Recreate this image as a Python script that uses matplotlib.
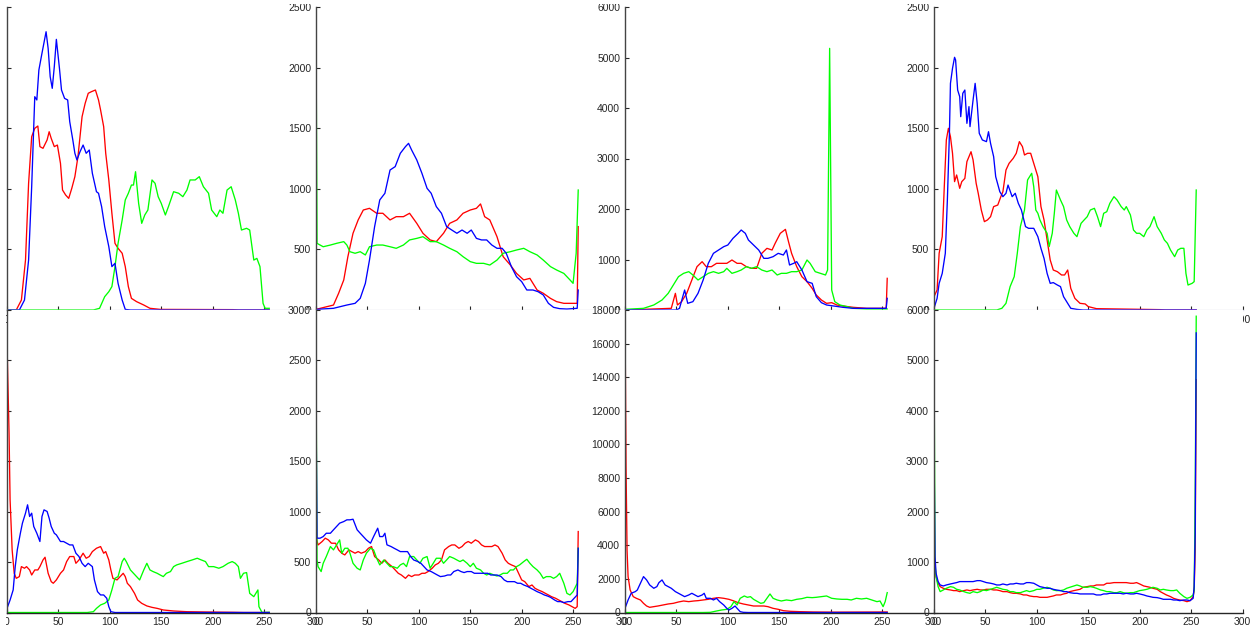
import numpy as np
import matplotlib
matplotlib.use("Agg")
import matplotlib.pyplot as plt
from matplotlib.patches import Rectangle

# ── Histogram samples (grey level, pixel count) ────────────────────────────────
# p<row><col>_<channel>

p11_red = [(0, 0), (9, 0), (14, 82), (18, 412), (21, 1045), (24, 1430), (27, 1499), (30, 1518),
           (32, 1348), (35, 1334), (39, 1403), (41, 1471), (43, 1416), (46, 1348), (49, 1361),
           (52, 1210), (54, 990), (57, 949), (60, 921), (63, 1004), (66, 1100), (69, 1265),
           (73, 1595), (76, 1705), (79, 1788), (82, 1801), (86, 1815), (89, 1733), (91, 1650),
           (94, 1513), (96, 1293), (99, 1073), (102, 798), (105, 550), (108, 509), (112, 468),
           (115, 358), (118, 193), (121, 96), (126, 69), (133, 41), (139, 14), (149, 5),
           (220, 3), (225, 0), (255, 0)]
p11_green = [(0, 0), (84, 0), (90, 14), (95, 110), (99, 151), (102, 193), (105, 358), (108, 550),
             (112, 743), (115, 908), (118, 963), (121, 1031), (123, 1031), (125, 1141), (128, 880),
             (131, 715), (134, 784), (137, 825), (141, 1073), (144, 1045), (147, 935), (150, 880),
             (154, 784), (157, 853), (162, 976), (167, 963), (171, 935), (175, 990), (178, 1073),
             (183, 1073), (187, 1100), (191, 1017), (196, 963), (199, 825), (204, 770), (207, 825),
             (210, 798), (214, 990), (218, 1017), (222, 908), (225, 798), (228, 660), (233, 674),
             (236, 660), (240, 412), (243, 426), (246, 358), (249, 55), (251, 14), (255, 14)]
p11_blue = [(0, 0), (12, 0), (17, 82), (21, 412), (24, 1017), (27, 1760), (29, 1733), (31, 1980),
            (34, 2118), (38, 2296), (40, 2159), (42, 1925), (44, 1829), (46, 2008), (48, 2233),
            (51, 1994), (53, 1815), (56, 1746), (59, 1733), (61, 1554), (64, 1403), (66, 1293),
            (68, 1238), (71, 1306), (74, 1361), (77, 1293), (80, 1320), (83, 1128), (87, 976),
            (89, 963), (92, 853), (95, 688), (99, 523), (102, 358), (105, 385), (108, 220),
            (112, 82), (115, 5), (120, 0), (255, 0)]

p12_red = [(0, 5), (17, 41), (22, 138), (27, 248), (31, 440), (36, 633), (41, 743), (46, 825),
           (52, 839), (59, 798), (65, 798), (72, 743), (78, 770), (85, 770), (91, 798), (98, 715),
           (104, 633), (111, 578), (117, 564), (124, 633), (130, 715), (137, 743), (143, 798),
           (150, 825), (156, 839), (160, 875), (164, 770), (169, 743), (176, 605), (182, 440),
           (189, 371), (195, 302), (202, 248), (208, 261), (215, 165), (221, 138), (228, 96),
           (234, 69), (241, 55), (247, 55), (254, 55), (255, 688)]
p12_green = [(0, 2351), (1, 550), (7, 522), (14, 536), (20, 550), (27, 564), (30, 536), (33, 481),
             (38, 468), (43, 481), (48, 454), (52, 522), (59, 536), (65, 536), (72, 522), (78, 509),
             (85, 536), (91, 578), (98, 591), (104, 605), (111, 564), (117, 564), (124, 536),
             (130, 509), (137, 481), (143, 440), (150, 399), (156, 385), (163, 385), (169, 371),
             (176, 412), (182, 468), (189, 481), (195, 495), (202, 509), (208, 481), (215, 454),
             (221, 412), (228, 358), (234, 330), (241, 302), (247, 248), (250, 220), (253, 468),
             (255, 990)]
p12_blue = [(0, 5), (17, 14), (30, 41), (38, 55), (43, 96), (48, 220), (52, 412), (57, 688),
            (62, 908), (67, 963), (72, 1155), (77, 1183), (82, 1293), (87, 1348), (90, 1375),
            (93, 1320), (98, 1238), (103, 1128), (108, 1004), (112, 963), (117, 853), (122, 798),
            (127, 688), (132, 660), (137, 633), (142, 660), (147, 633), (151, 660), (156, 591),
            (161, 578), (166, 578), (171, 536), (176, 509), (181, 509), (185, 468), (190, 358),
            (195, 275), (200, 234), (205, 165), (211, 165), (216, 151), (221, 124), (226, 55),
            (231, 22), (237, 11), (244, 8), (254, 14), (255, 165)]

p13_red = [(0, 0), (45, 33), (49, 330), (51, 99), (55, 165), (60, 330), (65, 594), (70, 858),
           (75, 957), (79, 858), (84, 858), (89, 924), (94, 924), (99, 924), (104, 990), (109, 924),
           (113, 924), (118, 858), (123, 825), (128, 825), (133, 1122), (138, 1221), (143, 1188),
           (146, 1320), (151, 1518), (156, 1597), (159, 1353), (162, 1122), (167, 858), (172, 660),
           (177, 561), (182, 429), (186, 297), (191, 198), (196, 132), (201, 145), (206, 99),
           (212, 79), (222, 53), (235, 33), (254, 33), (255, 627)]
p13_green = [(0, 13), (18, 33), (28, 99), (36, 198), (42, 330), (47, 495), (52, 660), (57, 726),
             (62, 759), (66, 693), (71, 594), (76, 660), (81, 726), (86, 759), (91, 726), (96, 759),
             (99, 825), (104, 726), (109, 759), (113, 792), (118, 858), (123, 825), (128, 858),
             (133, 792), (138, 759), (143, 792), (148, 693), (152, 726), (157, 726), (162, 759),
             (167, 759), (172, 792), (177, 990), (180, 924), (185, 759), (190, 726), (195, 693),
             (197, 792), (199, 5181), (201, 396), (204, 165), (209, 99), (216, 66), (222, 33),
             (235, 20), (255, 20)]
p13_blue = [(0, 0), (50, 0), (53, 33), (58, 396), (61, 132), (66, 165), (71, 330), (76, 594),
            (81, 924), (86, 1122), (91, 1188), (96, 1254), (100, 1287), (105, 1419), (110, 1518),
            (113, 1584), (117, 1518), (120, 1386), (125, 1287), (130, 1188), (135, 1023),
            (139, 1023), (144, 1056), (149, 1122), (154, 1089), (157, 1188), (160, 891), (164, 924),
            (167, 957), (172, 792), (177, 561), (182, 528), (186, 264), (191, 145), (196, 99),
            (203, 79), (212, 53), (222, 33), (254, 33), (255, 231)]

p14_red = [(0, 110), (3, 165), (5, 468), (8, 605), (10, 1017), (12, 1403), (14, 1499), (16, 1430),
           (18, 1293), (20, 1059), (22, 1114), (25, 1004), (27, 1059), (30, 1086), (32, 1224),
           (36, 1306), (38, 1238), (41, 1045), (43, 963), (46, 825), (49, 729), (52, 743),
           (55, 770), (58, 853), (62, 866), (65, 935), (67, 976), (70, 1155), (73, 1210),
           (77, 1251), (80, 1293), (83, 1389), (86, 1348), (88, 1279), (91, 1293), (94, 1293),
           (97, 1210), (101, 1100), (104, 853), (107, 743), (110, 578), (113, 413), (116, 330),
           (120, 316), (124, 289), (127, 289), (130, 330), (133, 179), (137, 96), (142, 55),
           (147, 50), (150, 28), (158, 11), (220, 3), (225, 0), (255, 0)]
p14_green = [(0, 0), (61, 0), (66, 14), (70, 55), (74, 193), (78, 275), (81, 468), (84, 688),
             (88, 825), (91, 1073), (95, 1128), (97, 1017), (99, 825), (101, 798), (103, 743),
             (106, 688), (110, 633), (112, 523), (115, 633), (117, 798), (119, 990), (123, 908),
             (126, 853), (129, 743), (132, 688), (136, 633), (139, 605), (143, 715), (146, 743),
             (149, 770), (152, 825), (156, 839), (159, 770), (162, 688), (165, 798), (168, 811),
             (171, 880), (175, 935), (178, 908), (182, 853), (185, 825), (187, 853), (191, 784),
             (194, 660), (197, 633), (200, 633), (204, 605), (207, 660), (210, 688), (214, 770),
             (217, 688), (221, 633), (224, 578), (227, 550), (230, 495), (234, 440), (237, 495),
             (240, 509), (243, 509), (245, 302), (247, 206), (251, 220), (253, 234), (255, 990)]
p14_blue = [(0, 14), (3, 96), (5, 220), (8, 302), (11, 468), (13, 908), (15, 1458), (16, 1870),
            (18, 1994), (20, 2085), (21, 2063), (23, 1815), (25, 1760), (26, 1595), (28, 1788),
            (30, 1815), (32, 1540), (34, 1678), (35, 1513), (38, 1733), (40, 1870), (42, 1705),
            (44, 1458), (47, 1403), (51, 1389), (53, 1471), (55, 1375), (58, 1265), (60, 1100),
            (64, 976), (67, 935), (70, 963), (72, 1031), (76, 935), (79, 963), (82, 880), (85, 825),
            (89, 688), (92, 674), (97, 674), (101, 605), (104, 509), (107, 426), (110, 302),
            (113, 220), (116, 226), (120, 206), (123, 193), (126, 110), (130, 55), (133, 14),
            (139, 5), (145, 0), (255, 0)]

p21_red = [(0, 2673), (2, 1780), (3, 1117), (5, 621), (7, 389), (9, 339), (12, 356), (14, 455),
           (17, 439), (19, 455), (22, 422), (24, 372), (27, 422), (30, 422), (32, 455), (35, 521),
           (37, 548), (40, 389), (43, 306), (45, 290), (48, 323), (52, 389), (55, 422), (58, 505),
           (61, 555), (65, 555), (67, 488), (70, 521), (74, 588), (77, 538), (80, 555), (83, 604),
           (87, 637), (91, 654), (94, 588), (96, 604), (99, 521), (101, 422), (103, 339),
           (107, 323), (110, 356), (113, 389), (115, 356), (117, 290), (120, 257), (124, 190),
           (127, 124), (131, 91), (136, 65), (141, 51), (146, 41), (152, 25), (162, 15), (175, 8),
           (194, 5), (220, 2), (230, 0), (255, 0)]
p21_green = [(0, 0), (78, 0), (84, 8), (87, 41), (91, 75), (95, 91), (99, 124), (102, 224),
             (105, 339), (108, 356), (112, 505), (114, 538), (116, 505), (120, 422), (123, 389),
             (126, 356), (129, 323), (133, 422), (136, 488), (139, 422), (142, 406), (146, 389),
             (149, 372), (152, 356), (155, 389), (159, 406), (162, 455), (165, 472), (170, 488),
             (175, 505), (180, 521), (185, 538), (189, 521), (193, 505), (196, 455), (201, 455),
             (206, 439), (210, 455), (215, 488), (219, 505), (222, 488), (225, 455), (227, 339),
             (230, 389), (233, 396), (236, 190), (240, 157), (244, 224), (245, 58), (248, 0),
             (255, 2)]
p21_blue = [(0, 41), (3, 124), (6, 224), (8, 455), (10, 621), (13, 786), (15, 886), (18, 985),
            (20, 1068), (22, 952), (24, 985), (26, 853), (29, 786), (32, 704), (34, 952),
            (36, 1018), (39, 1002), (41, 935), (43, 853), (46, 786), (48, 770), (52, 704),
            (55, 704), (58, 687), (61, 670), (64, 670), (67, 588), (70, 555), (73, 488), (76, 455),
            (79, 488), (83, 455), (85, 323), (88, 207), (91, 174), (94, 174), (97, 141), (99, 58),
            (101, 8), (105, 0), (255, 0)]

p22_red = [(0, 750), (2, 670), (6, 704), (9, 737), (12, 720), (15, 687), (19, 687), (22, 621),
           (25, 588), (28, 571), (32, 621), (35, 604), (38, 588), (41, 604), (44, 588), (48, 604),
           (51, 637), (54, 654), (57, 555), (61, 521), (64, 488), (67, 521), (70, 488), (74, 455),
           (77, 422), (80, 389), (83, 372), (87, 339), (90, 372), (93, 356), (96, 372), (100, 372),
           (103, 389), (106, 389), (109, 406), (113, 439), (116, 472), (119, 488), (122, 521),
           (125, 621), (129, 654), (132, 670), (135, 670), (139, 637), (142, 654), (145, 687),
           (148, 704), (151, 687), (155, 720), (158, 704), (161, 670), (164, 654), (168, 654),
           (171, 654), (174, 670), (177, 654), (181, 588), (184, 521), (187, 488), (190, 472),
           (194, 455), (197, 389), (200, 323), (203, 306), (207, 257), (210, 273), (213, 240),
           (216, 224), (220, 207), (223, 190), (226, 174), (229, 157), (233, 141), (236, 124),
           (239, 108), (242, 91), (246, 75), (249, 58), (252, 41), (254, 58), (255, 803)]
p22_green = [(0, 2525), (1, 521), (2, 455), (5, 406), (7, 488), (10, 555), (14, 654), (17, 621),
             (20, 670), (23, 720), (25, 588), (28, 637), (31, 637), (33, 588), (36, 488), (40, 439),
             (43, 422), (46, 521), (49, 588), (53, 637), (56, 621), (59, 538), (62, 472), (66, 521),
             (69, 488), (72, 455), (75, 455), (79, 439), (82, 472), (85, 488), (88, 455), (91, 555),
             (95, 555), (98, 521), (101, 488), (104, 538), (108, 555), (111, 439), (114, 488),
             (117, 538), (121, 538), (124, 488), (127, 521), (130, 555), (134, 538), (137, 521),
             (140, 505), (143, 521), (147, 488), (150, 455), (153, 488), (156, 439), (160, 422),
             (163, 389), (166, 372), (169, 389), (173, 372), (176, 362), (179, 372), (182, 389),
             (186, 389), (189, 422), (192, 422), (195, 455), (198, 472), (202, 505), (205, 528),
             (208, 488), (211, 455), (215, 422), (218, 389), (221, 339), (224, 356), (228, 356),
             (231, 339), (234, 356), (237, 389), (241, 290), (244, 190), (247, 174), (250, 207),
             (254, 290), (255, 637)]
p22_blue = [(0, 2111), (1, 737), (4, 737), (7, 753), (10, 786), (14, 786), (17, 820), (20, 853),
            (23, 886), (27, 902), (30, 919), (33, 919), (36, 925), (40, 820), (43, 786), (46, 753),
            (49, 720), (53, 687), (56, 753), (60, 836), (62, 753), (65, 753), (67, 786), (69, 671),
            (73, 654), (76, 637), (79, 621), (82, 604), (86, 604), (89, 604), (92, 555), (95, 521),
            (99, 505), (102, 488), (105, 455), (108, 422), (112, 406), (115, 389), (118, 372),
            (121, 356), (125, 362), (128, 372), (131, 372), (134, 406), (138, 422), (141, 406),
            (144, 396), (147, 406), (151, 406), (154, 389), (157, 389), (160, 389), (163, 389),
            (167, 389), (170, 372), (173, 372), (176, 372), (180, 356), (183, 323), (186, 306),
            (189, 306), (193, 306), (196, 290), (199, 290), (202, 273), (206, 257), (209, 240),
            (212, 224), (215, 207), (219, 190), (222, 174), (225, 164), (228, 151), (232, 124),
            (235, 108), (238, 108), (241, 98), (245, 108), (248, 108), (251, 141), (254, 174),
            (255, 637)]

p23_red = [(0, 17833), (1, 8700), (2, 3700), (3, 2136), (5, 1341), (8, 944), (11, 845), (15, 745),
           (18, 546), (21, 387), (24, 308), (28, 348), (32, 387), (37, 447), (42, 507), (47, 546),
           (52, 626), (57, 685), (62, 646), (67, 685), (71, 705), (76, 745), (81, 785), (86, 845),
           (91, 884), (96, 845), (101, 785), (105, 705), (110, 586), (115, 507), (120, 447),
           (125, 387), (130, 387), (135, 387), (139, 348), (144, 248), (149, 189), (154, 109),
           (161, 70), (170, 50), (183, 30), (203, 20), (255, 30)]
p23_green = [(0, 0), (76, 0), (83, 10), (89, 89), (94, 149), (99, 189), (103, 348), (106, 646),
             (109, 447), (112, 845), (116, 983), (119, 904), (122, 944), (125, 785), (129, 646),
             (132, 546), (135, 586), (138, 845), (141, 1103), (144, 845), (148, 745), (152, 685),
             (157, 745), (162, 705), (167, 785), (172, 825), (177, 904), (182, 884), (186, 904),
             (191, 944), (196, 983), (201, 845), (206, 805), (211, 785), (216, 785), (220, 745),
             (225, 845), (230, 805), (235, 845), (240, 745), (245, 646), (248, 685), (251, 348),
             (253, 646), (255, 1182)]
p23_blue = [(0, 248), (3, 745), (6, 1143), (10, 1242), (12, 1341), (15, 1739), (18, 2136),
            (21, 1937), (24, 1639), (28, 1441), (31, 1540), (33, 1778), (36, 1937), (39, 1639),
            (42, 1540), (45, 1441), (49, 1242), (52, 1143), (55, 1043), (58, 944), (62, 1043),
            (65, 1143), (68, 1043), (71, 944), (75, 1043), (77, 1143), (79, 845), (83, 845),
            (86, 745), (89, 845), (92, 646), (96, 447), (99, 248), (101, 149), (104, 248),
            (107, 387), (109, 248), (112, 50), (115, 10), (120, 0), (255, 0)]

p24_red = [(0, 1100), (1, 911), (2, 712), (4, 580), (6, 513), (9, 480), (12, 460), (16, 447),
           (19, 434), (22, 434), (25, 414), (29, 434), (32, 447), (35, 434), (38, 447), (42, 460),
           (45, 447), (48, 447), (51, 460), (55, 460), (58, 447), (61, 447), (64, 434), (67, 414),
           (71, 414), (74, 394), (77, 381), (80, 381), (84, 368), (87, 348), (90, 348), (93, 328),
           (97, 315), (100, 315), (103, 301), (106, 301), (110, 301), (113, 315), (116, 328),
           (119, 348), (123, 348), (126, 368), (129, 381), (132, 414), (136, 434), (139, 447),
           (142, 460), (145, 500), (149, 513), (152, 526), (155, 526), (158, 546), (162, 546),
           (165, 546), (168, 580), (171, 580), (175, 593), (178, 593), (181, 593), (184, 593),
           (187, 593), (191, 580), (194, 580), (197, 593), (200, 566), (204, 526), (207, 513),
           (210, 500), (213, 480), (217, 460), (220, 414), (223, 381), (226, 348), (230, 315),
           (233, 281), (236, 262), (239, 248), (243, 235), (246, 215), (249, 235), (252, 315),
           (253, 447), (254, 1242), (255, 4619)]
p24_green = [(0, 5249), (1, 977), (2, 712), (4, 513), (6, 414), (9, 447), (12, 480), (16, 513),
             (19, 500), (22, 460), (25, 447), (29, 414), (32, 394), (35, 381), (38, 414), (42, 394),
             (45, 414), (48, 447), (51, 434), (55, 460), (58, 480), (61, 500), (64, 480), (67, 460),
             (71, 447), (74, 414), (77, 414), (80, 394), (84, 394), (87, 414), (90, 434), (93, 414),
             (97, 434), (100, 460), (103, 460), (106, 480), (110, 500), (113, 480), (116, 447),
             (119, 434), (123, 434), (126, 447), (129, 480), (132, 500), (136, 526), (139, 546),
             (142, 526), (145, 500), (149, 500), (152, 513), (155, 500), (158, 480), (162, 447),
             (165, 434), (168, 414), (171, 414), (175, 394), (178, 394), (181, 414), (184, 394),
             (187, 381), (191, 394), (194, 394), (197, 414), (200, 434), (204, 447), (207, 460),
             (210, 480), (213, 500), (217, 480), (220, 447), (223, 460), (226, 447), (230, 434),
             (233, 434), (236, 447), (239, 381), (243, 315), (246, 281), (249, 301), (252, 348),
             (253, 447), (254, 2235), (255, 5877)]
p24_blue = [(0, 3295), (1, 1109), (2, 778), (4, 613), (6, 546), (9, 526), (12, 546), (16, 566),
            (19, 580), (22, 593), (25, 613), (29, 613), (32, 613), (35, 613), (38, 613), (42, 632),
            (45, 632), (48, 613), (51, 593), (55, 580), (58, 566), (61, 546), (64, 546), (67, 566),
            (71, 546), (74, 566), (77, 566), (80, 580), (84, 566), (87, 566), (90, 593), (93, 593),
            (97, 580), (100, 546), (103, 513), (106, 500), (110, 480), (113, 480), (116, 460),
            (119, 447), (123, 434), (126, 414), (129, 414), (132, 394), (136, 381), (139, 381),
            (142, 368), (145, 368), (149, 368), (152, 368), (155, 368), (158, 348), (162, 348),
            (165, 368), (168, 368), (171, 381), (175, 381), (178, 381), (181, 381), (184, 368),
            (187, 381), (191, 368), (194, 368), (197, 381), (200, 368), (204, 348), (207, 328),
            (210, 315), (213, 301), (217, 295), (220, 281), (223, 262), (226, 262), (230, 262),
            (233, 248), (236, 248), (239, 235), (243, 248), (246, 248), (249, 235), (252, 281),
            (253, 513), (254, 1573), (255, 5546)]

# y-axis upper limit and tick step for each panel
ylim_top = [2500, 2500, 6000, 2500]
ystep_top = [500, 500, 1000, 500]
ylim_bottom = [3000, 3000, 18000, 6000]
ystep_bottom = [500, 500, 2000, 1000]

panels = [
    [(p11_red, p11_green, p11_blue), (p12_red, p12_green, p12_blue),
     (p13_red, p13_green, p13_blue), (p14_red, p14_green, p14_blue)],
    [(p21_red, p21_green, p21_blue), (p22_red, p22_green, p22_blue),
     (p23_red, p23_green, p23_blue), (p24_red, p24_green, p24_blue)],
]

# ── Layout (pixels, MATLAB-style overlapping subplots) ────────────────────────
W, H = 1260, 634
X0, DX, AW = 7, 309, 308.5
ROWS = [(7, 303), (310, 302.5)]      # (top, height)
COLORS = ["#ff0000", "#00ff00", "#0000ff"]
INK = "#262626"

plt.rcParams["font.family"] = ["Liberation Sans", "DejaVu Sans"]

fig = plt.figure(figsize=(W / 100, H / 100), dpi=100)

for r, row in enumerate(panels):
    top, h = ROWS[r]
    ylims = ylim_top if r == 0 else ylim_bottom
    ysteps = ystep_top if r == 0 else ystep_bottom
    for c, series in enumerate(row):
        ax = fig.add_axes([(X0 + c * DX) / W, 1 - (top + h) / H, AW / W, h / H])
        ax.set_facecolor("white")
        for data, color in zip(series, COLORS):
            xs, ys = zip(*data)
            ax.plot(xs, ys, color=color, lw=0.95)

        ax.set_xlim(0, 300)
        ax.set_ylim(0, ylims[c])
        ax.set_xticks(np.arange(0, 301, 50))
        ax.set_yticks(np.arange(0, ylims[c] + 1, ysteps[c]))

        ax.spines["top"].set_visible(False)
        ax.spines["right"].set_visible(False)
        ax.spines["left"].set_color("#444444")
        ax.spines["left"].set_linewidth(1.0)
        # top row's x axis is mostly hidden under the lower row
        ax.spines["bottom"].set_color(INK if r == 1 else "#dcdce8")
        ax.spines["bottom"].set_linewidth(1.0)

        ax.tick_params(direction="in", length=2.8, width=0.8, color=INK,
                       labelcolor=INK, labelsize=7.5, pad=3.5)

# the source image was cropped: trim a sliver at the left and top edges
fig.add_artist(Rectangle((0, 0), 6 / W, 1, transform=fig.transFigure,
                         facecolor="white", edgecolor="none", zorder=10))
fig.add_artist(Rectangle((0, 1 - 4 / H), 1, 4 / H, transform=fig.transFigure,
                         facecolor="white", edgecolor="none", zorder=10))

fig.savefig("out.png", dpi=100)
